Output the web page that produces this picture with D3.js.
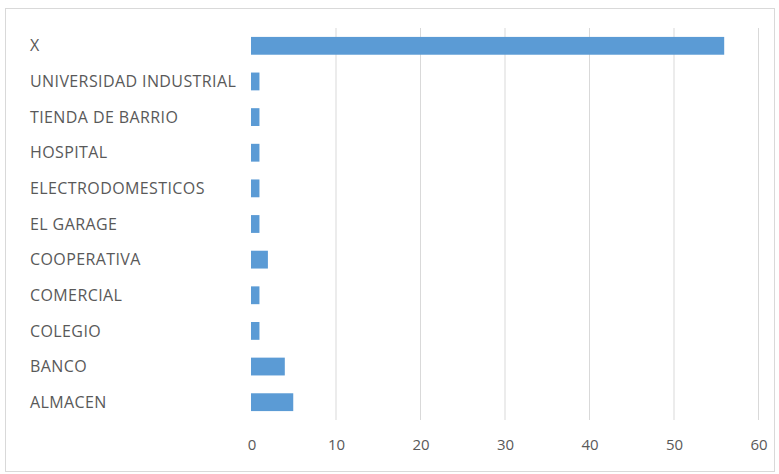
<!DOCTYPE html>
<html><head><meta charset="utf-8">
<script src="https://cdn.jsdelivr.net/npm/d3@7"></script>
<style>body{margin:0;background:#fff;}svg{display:block;}</style>
</head><body>
<script>
const categories = ["X","UNIVERSIDAD INDUSTRIAL","TIENDA DE BARRIO","HOSPITAL","ELECTRODOMESTICOS","EL GARAGE","COOPERATIVA","COMERCIAL","COLEGIO","BANCO","ALMACEN"];
const values = [56,1,1,1,1,1,2,1,1,4,5];
const ticks = [0,10,20,30,40,50,60];

const W = 779, H = 474;
const svg = d3.select("body").append("svg").attr("width", W).attr("height", H);
svg.append("rect").attr("x",5.5).attr("y",8.5).attr("width",769).attr("height",463)
  .attr("fill","#fff").attr("stroke","#d9d9d9");

const x = d3.scaleLinear().domain([0,60]).range([251,758]);
const y = d3.scaleBand().domain(categories).range([28,420]).paddingInner(0.5).paddingOuter(0.25);

const font = "'Open Sans', 'Liberation Sans', sans-serif";
// grid
svg.append("g").selectAll("line").data(ticks.filter(t=>t>0)).join("line")
  .attr("x1",d=>x(d)+0.5).attr("x2",d=>x(d)+0.5).attr("y1",28).attr("y2",420)
  .attr("stroke","#d9d9d9").attr("stroke-width",1);

// bars
svg.append("g").selectAll("rect").data(categories).join("rect")
  .attr("x",x(0)).attr("y",d=>y(d)).attr("height",y.bandwidth())
  .attr("width",(d,i)=>x(values[i])-x(0)).attr("fill","#5b9bd5");

// category labels
svg.append("g").selectAll("text").data(categories).join("text")
  .attr("x",30).attr("y",d=>y(d)+y.bandwidth()/2).attr("dy","0.35em")
  .attr("font-family",font).attr("font-size",16).attr("letter-spacing",0.4)
  .attr("fill","#595959").text(d=>d);

// x tick labels
svg.append("g").selectAll("text").data(ticks).join("text")
  .attr("x",d=>x(d)+1).attr("y",445).attr("dy","0.35em").attr("text-anchor","middle")
  .attr("font-family",font).attr("font-size",15).attr("fill","#595959").text(d=>d);
</script>
</body></html>
